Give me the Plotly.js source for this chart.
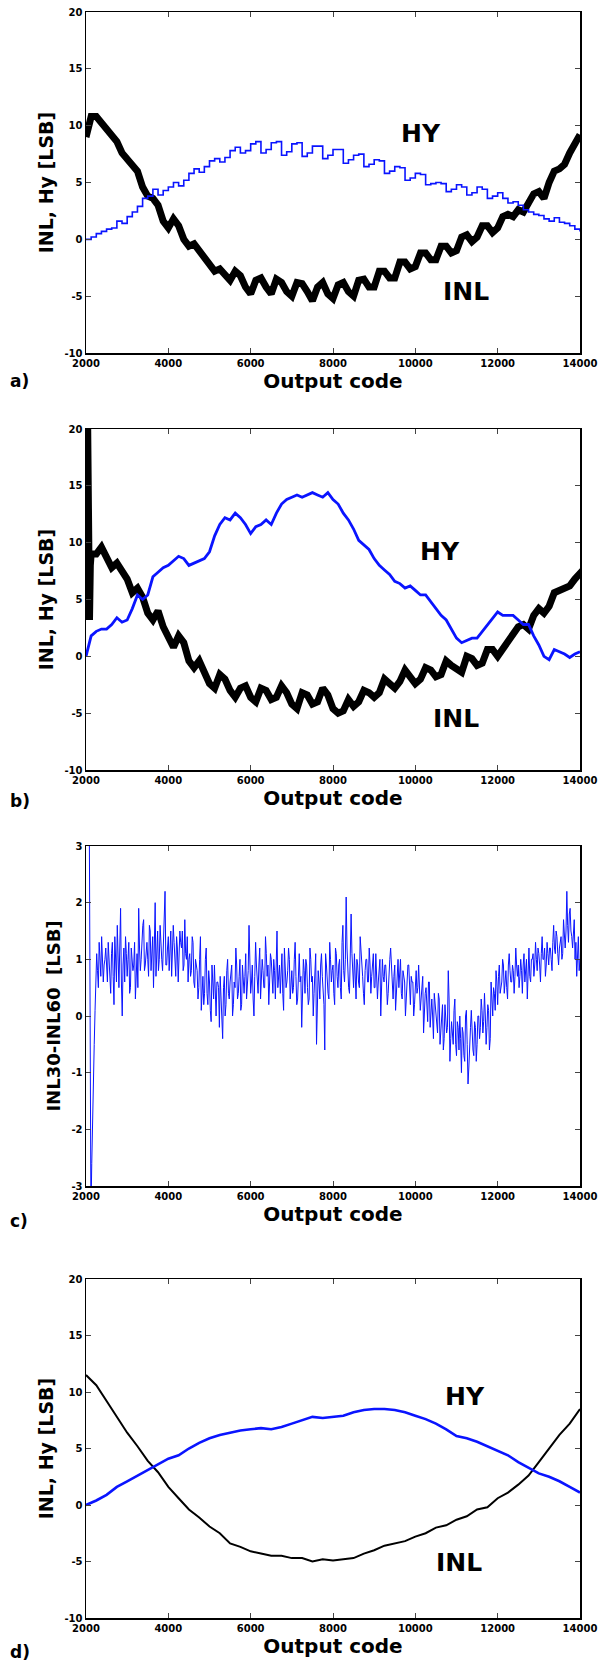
<!DOCTYPE html>
<html>
<head>
<meta charset="utf-8">
<script src="https://cdn.plot.ly/plotly-3.0.1.min.js"></script>
<style>html,body{margin:0;padding:0;background:#fff;}#chart{width:600px;height:1661px;}</style>
</head>
<body>
<div id="chart"></div>
<script>
// ---------- data ----------
const xTickVals = [2000, 4000, 6000, 8000, 10000, 12000, 14000];
const xTickText = ['2000', '4000', '6000', '8000', '10000', '12000', '14000'];
const yTickVals = [-10, -5, 0, 5, 10, 15, 20];
const yTickText = ['-10', '-5', '0', '5', '10', '15', '20'];
const cTickVals = [-3, -2, -1, 0, 1, 2, 3];
const cTickText = ['-3', '-2', '-1', '0', '1', '2', '3'];
const panelLabels = ['a)', 'b)', 'c)', 'd)'];
const xTitle = 'Output code';
const yTitleInl = 'INL, Hy [LSB]';
const yTitleDiff = 'INL30-INL60  [LSB]';

// panel a & b sampled every 125 codes from 2000
const abStart = 2000, abStep = 125;
const inlA = [9.0,10.8,10.8,10.2,9.8,9.0,8.6,7.6,7.0,6.6,6.0,4.6,3.8,3.6,3.0,1.6,1.0,1.8,1.2,0.0,
  -0.6,-0.4,-1.0,-1.8,-2.2,-2.8,-2.6,-3.0,-3.6,-2.8,-3.2,-4.2,-4.8,-3.6,-3.4,-4.2,-4.8,-3.5,-3.8,-4.6,
  -5.0,-3.8,-3.9,-4.6,-5.4,-4.2,-3.8,-4.8,-5.2,-4.0,-3.8,-4.6,-5.0,-3.6,-3.5,-4.2,-4.2,-2.8,-2.8,-3.4,
  -3.4,-2.0,-2.0,-2.6,-2.4,-1.2,-1.2,-1.8,-1.8,-0.6,-0.6,-1.2,-1.0,0.2,0.4,-0.2,0.2,1.2,1.2,0.6,
  1.0,2.0,2.2,2.0,2.6,2.4,3.2,4.0,4.2,3.6,5.0,6.0,6.2,6.6,7.6,8.4,9.2];
const hyA = [0.0,0.2,0.5,0.7,0.9,1.0,1.6,1.4,2.0,2.4,2.9,3.6,3.8,4.4,3.9,4.3,4.6,5.0,4.7,5.2,
  5.8,6.2,5.9,6.4,6.9,7.1,6.8,7.2,7.8,8.1,7.6,7.8,8.4,8.6,7.6,7.9,8.5,8.6,7.4,7.7,
  8.4,8.5,7.3,7.6,8.2,8.2,7.1,7.4,7.9,7.9,6.7,7.0,7.4,7.5,6.4,6.6,7.0,6.9,5.8,6.0,
  6.4,6.3,5.2,5.4,5.8,5.7,4.8,4.9,5.0,4.9,4.2,4.4,4.8,4.6,3.9,4.1,4.6,4.4,3.6,3.8,
  4.1,3.6,3.2,3.3,3.0,2.6,2.4,2.2,2.1,1.8,1.6,1.9,1.5,1.4,1.2,0.9,0.7];
const inlBHeadCodes = [2040, 2070, 2085, 2105];
const inlBHead = [20.5, 12.8, 3.2, 8.0];
const inlB = [9.0,9.0,9.6,8.8,7.8,8.2,7.4,6.8,5.6,6.0,5.2,3.8,3.2,4.0,2.6,1.6,0.8,1.8,1.2,-0.4,
  -1.0,-0.4,-1.4,-2.4,-2.8,-1.6,-2.0,-3.0,-3.6,-2.8,-2.6,-3.6,-4.0,-2.8,-3.0,-3.8,-3.6,-2.6,-3.2,-4.2,
  -4.6,-3.2,-3.4,-4.2,-4.0,-2.8,-3.4,-4.6,-5.0,-4.8,-3.8,-4.4,-4.0,-3.0,-3.2,-3.6,-3.2,-2.0,-2.4,-2.8,
  -2.2,-1.2,-1.8,-2.4,-2.0,-1.0,-1.2,-1.8,-1.6,-0.4,-0.8,-1.2,-1.4,0.0,-0.2,-0.8,-0.6,0.6,0.6,0.0,
  0.6,1.4,1.8,2.6,2.8,2.4,3.6,4.2,3.8,4.4,5.6,5.8,6.0,6.2,6.8,7.2,7.8];
const hyB = [0.0,1.8,2.2,2.4,2.4,2.8,3.4,3.0,3.2,4.2,5.4,5.0,5.4,7.0,7.4,7.8,8.0,8.4,8.8,8.6,
  8.0,8.2,8.4,8.6,9.2,10.6,11.6,12.2,12.0,12.6,12.2,11.6,10.8,11.4,11.6,12.0,11.6,12.6,13.4,13.8,
  14.0,14.2,14.0,14.2,14.4,14.2,14.0,14.4,13.8,13.4,12.6,12.0,11.2,10.2,9.8,9.4,8.6,8.0,7.6,7.2,
  6.6,6.4,6.0,6.2,5.8,5.4,5.4,4.8,4.2,3.6,3.2,2.4,1.6,1.2,1.4,1.6,1.6,2.2,2.8,3.4,
  3.9,3.6,3.6,3.6,3.2,2.8,2.8,1.8,1.0,0.0,-0.3,0.6,0.4,0.2,-0.1,0.2,0.4];

// panel c: values at codes 2080, 2120, ... (diffC) and at 2100, 2140, ... (diffCMid)
const cStart = 2080, cStep = 20;
const diffC = [3.5,-3.5,-1.6,-0.5,0.5,0.8,1.3,0.7,1.1,0.9,1.2,0.6,1.0,0.4,1.3,0.2,1.0,1.6,0.5,1.9,
  0.0,1.2,1.4,0.7,1.3,0.5,1.0,0.9,0.3,1.1,1.9,0.8,1.4,1.7,0.9,1.3,0.7,1.5,1.1,0.5,
  2.0,1.2,0.8,1.6,1.0,1.3,2.2,0.9,1.4,1.1,0.7,1.6,1.0,1.4,0.6,1.5,1.2,0.8,1.7,1.0,
  0.6,1.1,0.8,1.3,0.5,0.9,0.3,1.0,0.1,0.7,0.4,1.2,0.2,0.6,-0.1,0.5,0.9,0.0,0.6,-0.2,
  0.4,-0.4,0.7,0.2,1.0,0.3,0.8,0.0,0.6,1.2,0.3,0.7,0.1,0.9,0.4,1.1,0.5,1.6,0.4,0.9,
  0.0,1.3,0.6,0.9,0.3,1.0,0.5,1.4,0.7,0.2,1.1,0.6,1.0,0.3,1.5,0.7,0.4,1.1,0.1,0.9,
  0.6,1.2,0.3,0.8,0.5,1.3,0.2,0.9,0.6,-0.2,1.0,0.4,0.9,0.2,1.2,0.6,0.0,0.9,-0.5,0.8,
  0.3,1.1,0.5,-0.6,0.9,0.4,1.3,0.6,0.9,0.2,1.1,0.5,1.0,0.3,1.6,0.6,2.1,0.8,0.4,1.8,
  0.7,1.1,0.3,0.9,0.5,1.2,0.7,0.2,1.0,0.6,1.2,0.4,0.9,0.5,1.1,0.3,0.8,0.0,1.0,0.6,
  0.9,0.2,0.8,1.2,0.4,0.7,0.1,0.9,0.5,1.0,0.3,0.7,0.0,0.6,0.9,0.2,0.6,0.0,0.7,0.4,
  0.9,0.1,0.5,-0.3,0.4,0.0,0.6,-0.2,0.3,-0.4,0.2,-0.1,0.4,-0.5,0.1,-0.6,0.2,-0.3,0.8,-0.8,
  -0.1,-0.5,0.3,-0.7,-0.2,0.0,-1.0,-0.3,-0.8,0.1,-1.2,-0.4,0.1,-0.6,-0.1,-0.8,0.0,-0.4,0.3,-0.3,
  0.4,-0.5,0.2,-0.6,0.6,0.0,0.4,0.8,0.2,0.9,0.5,1.0,0.4,0.8,0.3,1.1,0.6,0.9,0.4,1.2,
  0.7,0.5,1.0,0.4,1.1,0.8,0.3,1.2,0.6,1.0,0.7,1.3,0.8,1.1,0.6,1.4,1.0,0.7,1.3,0.9,
  1.2,0.8,1.6,1.1,1.4,0.9,1.3,1.0,1.7,1.2,2.2,1.3,1.9,1.4,1.6,1.0,0.7,1.4,1.0];
const diffCMid = [0.5,-2.6,-1.0,0.1,1.1,0.5,1.0,1.4,0.6,1.0,0.7,1.3,0.8,1.1,0.7,1.4,0.6,1.0,1.2,0.6,
  0.9,0.6,1.1,1.0,0.4,1.2,0.8,1.3,0.6,0.5,1.2,1.0,1.6,0.8,1.2,1.0,1.6,0.8,1.4,1.2,
  0.7,1.5,1.0,1.2,0.8,1.7,0.9,1.2,0.8,1.5,1.1,1.3,0.7,1.2,1.0,1.3,1.5,0.9,1.1,1.4,
  1.0,0.7,1.4,0.6,1.0,0.8,0.5,1.4,0.6,0.2,1.0,0.4,0.8,0.1,0.9,0.3,0.2,0.6,0.5,0.7,
  0.1,0.5,0.0,0.8,0.4,0.6,0.9,0.2,0.5,0.9,0.4,1.0,0.2,0.6,0.7,0.3,0.8,1.0,0.6,0.3,
  0.7,0.9,0.4,1.2,0.6,0.8,0.5,1.1,0.9,0.6,1.0,0.4,0.8,1.3,0.5,0.9,0.7,0.4,1.2,0.5,
  0.8,1.0,0.6,0.4,1.0,0.7,0.3,1.1,0.7,0.4,0.8,1.0,0.5,0.3,1.0,0.7,0.4,1.1,0.2,0.6,
  0.9,0.7,0.2,1.1,0.6,0.3,1.0,0.8,0.4,1.2,0.7,0.9,0.5,1.3,0.8,1.0,1.2,0.5,0.9,1.1,
  0.5,0.8,1.0,0.6,1.4,0.9,0.4,0.8,1.0,0.6,0.9,0.7,1.1,0.5,0.8,0.6,1.0,0.4,0.7,0.9,
  0.6,0.4,1.0,0.8,0.3,0.9,0.5,1.0,0.7,0.4,0.8,0.6,0.3,0.9,0.4,0.7,0.6,0.2,0.8,0.5,
  0.6,0.3,0.7,0.1,0.5,-0.1,0.6,0.2,0.0,0.4,0.1,-0.3,0.3,-0.2,0.2,-0.4,0.0,-0.2,0.3,-0.4,
  -0.3,0.1,-0.5,-0.1,-0.6,-0.4,-0.2,-0.7,0.0,-0.5,-0.9,-0.2,-0.4,-0.7,-0.2,-0.5,0.0,-0.2,0.1,-0.1,
  0.0,-0.2,0.1,-0.4,0.3,0.5,0.1,0.6,0.7,0.4,0.6,0.9,0.6,0.5,0.9,0.8,0.6,0.8,0.7,0.9,
  0.9,0.7,0.8,0.9,0.6,1.0,0.9,0.7,1.0,1.1,0.9,1.0,1.2,0.9,1.1,1.0,1.2,0.9,1.1,1.2,
  1.0,1.3,1.2,1.5,1.1,1.2,1.4,1.1,1.3,1.5,1.6,1.8,1.5,1.2,1.7,1.3,1.1,0.8];

// panel d sampled every 250 codes from 2000
const dStart = 2000, dStep = 250;
const inlD = [11.5,10.6,9.2,7.8,6.4,5.2,3.9,2.9,1.6,0.6,-0.4,-1.1,-1.9,-2.5,-3.4,-3.7,-4.1,-4.3,-4.5,-4.5,
  -4.7,-4.7,-5.0,-4.8,-4.9,-4.8,-4.7,-4.3,-4.0,-3.6,-3.4,-3.2,-2.8,-2.5,-2.0,-1.8,-1.3,-1.0,-0.4,-0.2,
  0.6,1.1,1.8,2.6,3.8,5.0,6.2,7.2,8.5];
const hyD = [0.0,0.4,0.9,1.6,2.1,2.6,3.1,3.6,4.1,4.4,5.0,5.5,5.9,6.2,6.4,6.6,6.7,6.8,6.7,6.9,
  7.2,7.5,7.8,7.7,7.8,7.9,8.2,8.4,8.5,8.5,8.4,8.2,7.9,7.6,7.2,6.7,6.1,5.9,5.6,5.2,
  4.8,4.4,3.8,3.3,2.8,2.5,2.1,1.6,1.1];

// curve label positions (data coordinates)
const labelHY = [[10140, 9.3], [10610, 9.2], null, [11210, 9.6]];
const labelINL = [[11230, -4.6], [10990, -5.5], null, [11060, -5.1]];

// ---------- build ----------
const codes = (start, step, n) => Array.from({length: n}, (_, i) => start + i * step);
const diffCAll = [];
diffC.forEach((v, i) => { diffCAll.push(v); if (i < diffCMid.length) diffCAll.push(diffCMid[i]); });

const FONT = 'DejaVu Sans, Arial, sans-serif';
const BLUE = '#0a14ff';
const BLACK = '#000000';

const traces = [
  {x: codes(abStart, abStep, inlA.length), y: inlA, xaxis: 'x', yaxis: 'y', mode: 'lines', line: {color: BLACK, width: 7}, name: 'INL'},
  {x: codes(abStart, abStep, hyA.length), y: hyA, xaxis: 'x', yaxis: 'y', mode: 'lines', line: {color: BLUE, width: 1.6, shape: 'hv'}, name: 'HY'},
  {x: inlBHeadCodes.concat(codes(abStart + abStep, abStep, inlB.length)), y: inlBHead.concat(inlB), xaxis: 'x2', yaxis: 'y2', mode: 'lines', line: {color: BLACK, width: 7}, name: 'INL'},
  {x: codes(abStart, abStep, hyB.length), y: hyB, xaxis: 'x2', yaxis: 'y2', mode: 'lines', line: {color: BLUE, width: 2.8}, name: 'HY'},
  {x: codes(cStart, cStep, diffCAll.length), y: diffCAll, xaxis: 'x3', yaxis: 'y3', mode: 'lines', line: {color: BLUE, width: 1}, name: 'INL30-INL60'},
  {x: codes(dStart, dStep, inlD.length), y: inlD, xaxis: 'x4', yaxis: 'y4', mode: 'lines', line: {color: BLACK, width: 2}, name: 'INL'},
  {x: codes(dStart, dStep, hyD.length), y: hyD, xaxis: 'x4', yaxis: 'y4', mode: 'lines', line: {color: BLUE, width: 2.6}, name: 'HY'}
];

// plot area in pixels: x 86..580; panels top/bottom
const W = 600, H = 1661;
const mL = 86, mR = 20, mT = 12, mB = 43;
const areaH = H - mT - mB;
const panelsPx = [[12, 353], [429, 770], [846, 1186], [1279, 1618]];
const yDom = p => [(H - mB - p[1]) / areaH, (H - mB - p[0]) / areaH];

const tickFont = {family: FONT, size: 10, weight: 700, color: '#000'};
const titleFont = {family: FONT, size: 20, weight: 700, color: '#000'};
function xAxis(anchor) {
  return {anchor: anchor, domain: [0, 1], range: [2000, 14000], tickmode: 'array', tickvals: xTickVals, ticktext: xTickText,
    showgrid: false, zeroline: false, showline: true, mirror: 'ticks', linecolor: '#000', linewidth: 1.5,
    ticks: 'inside', ticklen: 5, tickwidth: 1, tickcolor: '#444', tickfont: tickFont,
    title: {text: xTitle, font: titleFont, standoff: 6}};
}
function yAxis(anchor, dom, range, tv, tt, title, size, standoff) {
  return {anchor: anchor, domain: dom, range: range, tickmode: 'array', tickvals: tv, ticktext: tt,
    showgrid: false, zeroline: false, showline: true, mirror: 'ticks', linecolor: '#000', linewidth: 1.5,
    ticks: 'inside', ticklen: 5, tickwidth: 1, tickcolor: '#444', tickfont: tickFont,
    title: {text: title, font: {family: FONT, size: size, weight: 700, color: '#000'}, standoff: standoff}};
}

const annotations = [];
const labelYpx = [381, 801, 1221, 1652];
panelLabels.forEach((t, i) => {
  annotations.push({text: t, xref: 'paper', yref: 'paper', x: (8 - mL) / (W - mL - mR), y: (H - mB - labelYpx[i]) / areaH,
    xanchor: 'left', yanchor: 'middle', showarrow: false, font: {family: FONT, size: 17, weight: 700, color: '#000'}});
});
const axNames = ['', '2', '3', '4'];
[0, 1, 3].forEach(i => {
  annotations.push({text: 'HY', xref: 'x' + axNames[i], yref: 'y' + axNames[i], x: labelHY[i][0], y: labelHY[i][1],
    showarrow: false, font: {family: FONT, size: 25, weight: 700, color: '#000'}});
  annotations.push({text: 'INL', xref: 'x' + axNames[i], yref: 'y' + axNames[i], x: labelINL[i][0], y: labelINL[i][1],
    showarrow: false, font: {family: FONT, size: 25, weight: 700, color: '#000'}});
});

const layout = {
  width: W, height: H, margin: {l: mL, r: mR, t: mT, b: mB},
  paper_bgcolor: '#fff', plot_bgcolor: '#fff', showlegend: false,
  xaxis: xAxis('y'),
  yaxis: yAxis('x', yDom(panelsPx[0]), [-10, 20], yTickVals, yTickText, yTitleInl, 19, 6),
  xaxis2: xAxis('y2'),
  yaxis2: yAxis('x2', yDom(panelsPx[1]), [-10, 20], yTickVals, yTickText, yTitleInl, 19, 6),
  xaxis3: xAxis('y3'),
  yaxis3: yAxis('x3', yDom(panelsPx[2]), [-3, 3], cTickVals, cTickText, yTitleDiff, 18, 6),
  xaxis4: xAxis('y4'),
  yaxis4: yAxis('x4', yDom(panelsPx[3]), [-10, 20], yTickVals, yTickText, yTitleInl, 19, 6),
  annotations: annotations
};

Plotly.newPlot('chart', traces, layout, {staticPlot: true, displayModeBar: false});
</script>
</body>
</html>
